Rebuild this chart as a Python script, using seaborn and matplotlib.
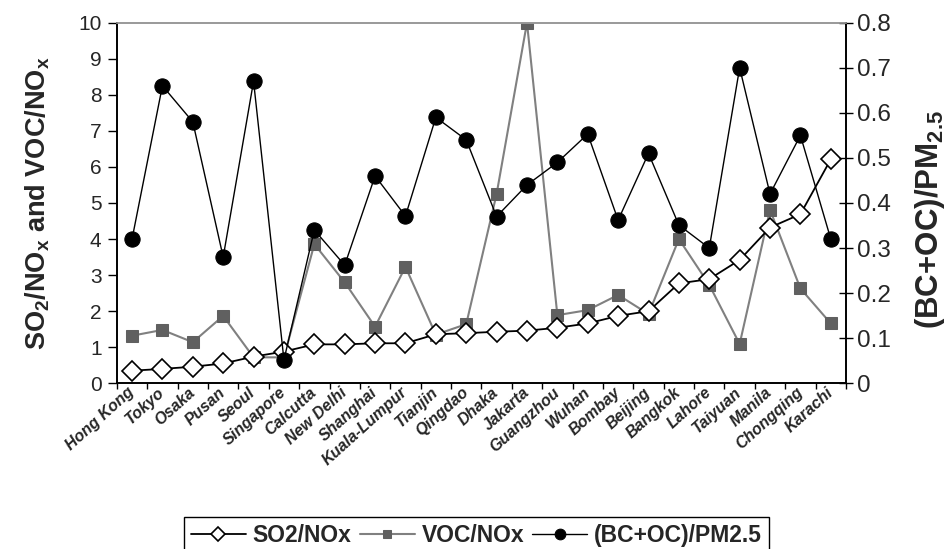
import matplotlib
matplotlib.use("Agg")
import matplotlib.pyplot as plt
import seaborn as sns
import numpy as np
from matplotlib.ticker import FixedLocator

cities = ["Hong Kong", "Tokyo", "Osaka", "Pusan", "Seoul", "Singapore", "Calcutta",
          "New Delhi", "Shanghai", "Kuala-Lumpur", "Tianjin", "Qingdao", "Dhaka",
          "Jakarta", "Guangzhou", "Wuhan", "Bombay", "Beijing", "Bangkok", "Lahore",
          "Taiyuan", "Manila", "Chongqing", "Karachi"]
so2_nox = [0.35, 0.40, 0.46, 0.55, 0.74, 0.88, 1.08, 1.08, 1.11, 1.11, 1.36, 1.39,
           1.43, 1.46, 1.54, 1.66, 1.87, 2.00, 2.77, 2.89, 3.42, 4.32, 4.69, 6.21]
voc_nox = [1.32, 1.48, 1.14, 1.87, 0.72, 0.72, 3.86, 2.80, 1.57, 3.23, 1.35, 1.64,
           5.25, 10.0, 1.89, 2.03, 2.45, 1.92, 4.00, 2.73, 1.09, 4.81, 2.63, 1.66]
bcoc_pm = [0.32, 0.66, 0.58, 0.28, 0.67, 0.052, 0.34, 0.262, 0.46, 0.371, 0.59, 0.54,
           0.37, 0.44, 0.49, 0.553, 0.362, 0.51, 0.351, 0.30, 0.70, 0.42, 0.55, 0.32]
left_ticks = list(range(0, 11))
right_ticks = [0, 0.1, 0.2, 0.3, 0.4, 0.5, 0.6, 0.7, 0.8]
right_tick_labels = ["0", "0.1", "0.2", "0.3", "0.4", "0.5", "0.6", "0.7", "0.8"]
legend_labels = ["SO2/NOx", "VOC/NOx", "(BC+OC)/PM2.5"]

sns.set_theme(style="white")
plt.rcParams['font.family'] = ['Liberation Sans', 'DejaVu Sans']
plt.rcParams['mathtext.fontset'] = 'custom'
plt.rcParams['mathtext.rm'] = 'Liberation Sans'
plt.rcParams['mathtext.bf'] = 'Liberation Sans:bold'

fig = plt.figure(figsize=(9.5, 5.49), dpi=100)
ax = fig.add_axes([0.123, 0.3018, 0.7675, 0.6569])
ax2 = ax.twinx()

idx = np.arange(len(cities))

sns.lineplot(x=idx, y=voc_nox, ax=ax, color="#808080", linewidth=1.5, marker="s",
             markersize=8.5, markerfacecolor="#606060", markeredgecolor="#606060",
             legend=False, zorder=2)
sns.lineplot(x=idx, y=so2_nox, ax=ax, color="black", linewidth=1.3, marker="D",
             markersize=10, markerfacecolor="white", markeredgecolor="black",
             markeredgewidth=1.2, legend=False, zorder=3)
sns.lineplot(x=idx, y=bcoc_pm, ax=ax2, color="black", linewidth=1.0, marker="o",
             markersize=11, markerfacecolor="black", markeredgecolor="black",
             legend=False, zorder=4)

for a in (ax, ax2):
    a.set_xlim(-0.5, len(cities) - 0.5)
    a.grid(False)
    a.set_facecolor("none")
ax.set_ylim(0, 10)
ax2.set_ylim(0, 0.8)

ax.set_yticks(left_ticks)
ax.set_yticklabels([str(t) for t in left_ticks], fontsize=15)
ax2.set_yticks(right_ticks)
ax2.set_yticklabels(right_tick_labels, fontsize=17.5)

ax.set_xticks(idx)
ax.set_xticklabels(cities, rotation=42, ha="right", va="center", rotation_mode="anchor",
                   fontsize=11.5, fontweight="bold", fontstyle="italic")
ax.xaxis.set_minor_locator(FixedLocator(np.arange(-0.5, len(cities), 1)))
ax.tick_params(axis="x", which="major", length=0, pad=5)
ax.tick_params(axis="x", which="minor", length=4, width=1, color="black", direction="out", bottom=True)
ax.tick_params(axis="y", which="major", length=6.5, width=1, color="black", direction="out", left=True, pad=4.5)
ax2.tick_params(axis="y", which="major", length=10, width=1, color="black", direction="inout", right=True, pad=3)

for a in (ax, ax2):
    for s in ("left", "right", "bottom"):
        a.spines[s].set_color("black")
        a.spines[s].set_linewidth(1.2)
    a.spines["top"].set_color("#999999")
    a.spines["top"].set_linewidth(1.2)

lab1 = ax.set_ylabel(r'SO$_\mathbf{2}$/NO$_\mathbf{x}$ and VOC/NO$_\mathbf{x}$', fontsize=19.5,
                     fontweight="bold")
lab1.set_va("center"); lab1.set_ha("center")
ax.yaxis.set_label_coords((38 - 117) / 729, 0.5)
lab2 = ax2.set_ylabel(r'(BC+OC)/PM$_\mathbf{2.5}$', fontsize=22.5, fontweight="bold",
                      rotation=90)
lab2.set_va("center"); lab2.set_ha("center")
ax2.yaxis.set_label_coords((930 - 117) / 729, 0.455)

h_voc = ax.get_lines()[0]
h_so2 = ax.get_lines()[1]
h_bc = ax2.get_lines()[0]
leg = fig.legend([h_so2, h_voc, h_bc], legend_labels,
                 loc="upper center", bbox_to_anchor=(0.5015, 0.0583), ncol=3,
                 frameon=True, fancybox=False, edgecolor="black", framealpha=1,
                 handlelength=2.4, handletextpad=0.3, columnspacing=0.35,
                 markerscale=0.7, borderpad=0.3, borderaxespad=0,
                 prop={"weight": "bold", "size": 16.5})
leg.get_frame().set_linewidth(1.0)

fig.savefig("out.png", dpi=100)
